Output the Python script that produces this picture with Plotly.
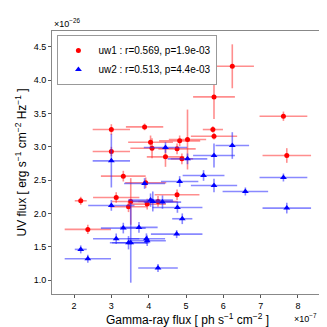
import plotly.graph_objects as go

# Gamma-ray flux in units of 1e-7 ph s^-1 cm^-2, UV flux in units of 1e-26 erg s^-1 cm^-2 Hz^-1
uw1_gamma = [3.00, 3.89, 3.00, 4.05, 4.09, 4.45, 4.83, 5.04, 4.45, 4.76, 4.89, 3.32, 3.92, 6.24,
             5.75, 5.72, 5.75, 7.61, 7.70, 3.13, 2.18, 3.52, 3.46, 3.96, 4.76, 4.25, 2.37]
uw1_gamma_err = [0.50, 0.50, 0.50, 0.60, 0.58, 0.59, 0.55, 0.50, 0.50, 0.50, 0.30, 0.60, 0.55, 0.58,
                 0.56, 0.27, 0.62, 0.64, 0.65, 0.62, 0.16, 0.50, 0.50, 0.50, 0.60, 0.53, 0.62]
uw1_uv = [3.26, 3.30, 2.93, 3.07, 2.98, 4.01, 3.09, 3.11, 2.85, 2.97, 2.82, 2.56, 2.46, 4.21,
          3.75, 3.26, 3.16, 3.46, 2.87, 2.24, 2.19, 2.18, 2.10, 2.14, 2.28, 2.18, 1.76]
uw1_uv_err = [0.08, 0.05, 0.07, 0.10, 0.15, 0.08, 0.08, 0.45, 0.15, 0.08, 0.08, 0.08, 0.08, 0.33,
              0.33, 0.05, 0.05, 0.07, 0.11, 0.08, 0.06, 0.35, 0.08, 0.08, 0.08, 0.08, 0.07]

uw2_gamma = [3.00, 4.45, 5.04, 6.24, 5.75, 5.47, 4.83, 5.75, 7.61, 6.59, 7.70, 4.90, 4.05, 4.11, 4.37,
             4.77, 4.75, 4.25, 3.89, 3.00, 3.32, 3.74, 3.13, 3.46, 3.52, 3.94, 3.96, 2.18, 2.37]
uw2_gamma_err = [0.50, 0.58, 0.53, 0.45, 0.56, 0.56, 0.50, 0.62, 0.64, 0.61, 0.65, 0.27, 0.60, 0.55, 0.50,
                 0.67, 0.69, 0.53, 0.55, 0.62, 0.60, 0.50, 0.62, 0.50, 0.50, 0.50, 0.50, 0.16, 0.62]
uw2_uv = [2.79, 2.99, 2.82, 3.02, 2.87, 2.57, 2.48, 2.42, 2.54, 2.33, 2.08, 1.92, 2.20, 2.18, 2.17,
          2.09, 1.69, 1.18, 2.45, 2.12, 1.78, 1.79, 1.62, 1.56, 1.56, 1.62, 1.59, 1.46, 1.32]
uw2_uv_err = [0.40, 0.08, 0.08, 0.20, 0.18, 0.08, 0.08, 0.10, 0.06, 0.06, 0.08, 0.08, 0.10, 0.15, 0.10,
              0.08, 0.06, 0.06, 0.08, 0.08, 0.08, 0.08, 0.08, 0.10, 0.60, 0.08, 0.08, 0.06, 0.06]

fig = go.Figure()
fig.add_trace(go.Scatter(
    x=uw1_gamma, y=uw1_uv, mode='markers',
    name='uw1 : r=0.569, p=1.9e-03',
    marker=dict(symbol='circle', size=5, color='red'),
    error_x=dict(type='data', array=uw1_gamma_err, color='rgba(255,50,50,0.55)', thickness=1.6, width=0),
    error_y=dict(type='data', array=uw1_uv_err, color='rgba(255,50,50,0.55)', thickness=1.6, width=0),
))
fig.add_trace(go.Scatter(
    x=uw2_gamma, y=uw2_uv, mode='markers',
    name='uw2 : r=0.513, p=4.4e-03',
    marker=dict(symbol='triangle-up', size=6, color='blue'),
    error_x=dict(type='data', array=uw2_gamma_err, color='rgba(40,40,255,0.55)', thickness=1.6, width=0),
    error_y=dict(type='data', array=uw2_uv_err, color='rgba(40,40,255,0.55)', thickness=1.6, width=0),
))

axis_common = dict(
    showgrid=False, zeroline=False, showline=True, linecolor='#888888', linewidth=1,
    mirror=True, ticks='outside', ticklen=3, tickcolor='#555555',
    tickfont=dict(size=9, color='black'),
)
fig.update_xaxes(range=[1.41, 8.67], dtick=1,
                 title=dict(text='Gamma-ray flux [ ph s<sup>\u22121</sup> cm<sup>\u22122</sup> ]',
                            font=dict(size=12, color='black'), standoff=4),
                 **axis_common)
fig.update_yaxes(range=[0.79, 4.74], dtick=0.5, tickformat='.1f',
                 title=dict(text='UV flux [ erg s<sup>\u22121</sup> cm<sup>\u22122</sup> Hz<sup>\u22121</sup> ]',
                            font=dict(size=12, color='black'), standoff=4),
                 **axis_common)

fig.add_annotation(text='\u00d710<sup>\u221226</sup>', xref='paper', yref='paper', x=0, y=1.0,
                   xanchor='left', yanchor='bottom', showarrow=False, font=dict(size=9, color='black'))
fig.add_annotation(text='\u00d710<sup>\u22127</sup>', xref='paper', yref='paper', x=0.985, y=-0.06,
                   xanchor='right', yanchor='top', showarrow=False, font=dict(size=9, color='black'))

fig.update_layout(
    width=327, height=327,
    margin=dict(l=44, r=12, t=23, b=41),
    paper_bgcolor='white', plot_bgcolor='white',
    font=dict(family='Liberation Sans, Arial, sans-serif', color='black'),
    showlegend=True,
    legend=dict(x=0.02, y=0.985, xanchor='left', yanchor='top',
                bgcolor='white', bordercolor='#999999', borderwidth=1,
                font=dict(size=10), itemwidth=30, tracegroupgap=0),
)

fig.write_html("out.html")
